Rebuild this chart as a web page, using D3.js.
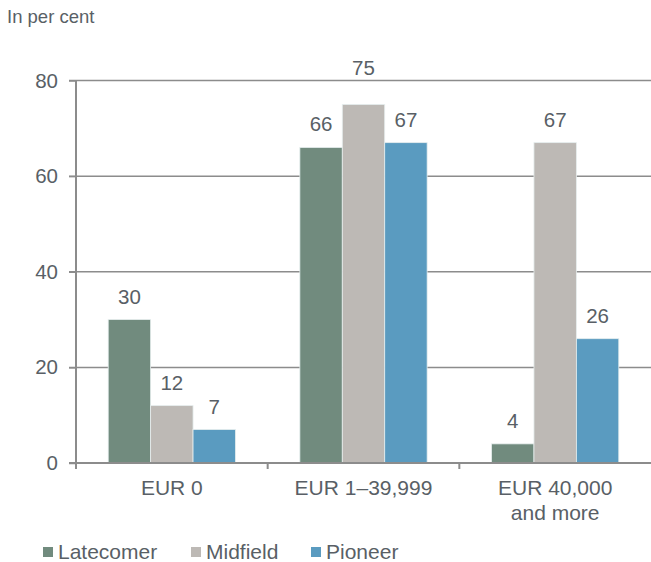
<!DOCTYPE html>
<html>
<head>
<meta charset="utf-8">
<script src="https://cdn.jsdelivr.net/npm/d3@7"></script>
<style>
  html, body { margin: 0; padding: 0; background: #fff; }
  svg { display: block; font-family: "Liberation Sans", Arial, sans-serif; }
</style>
</head>
<body>
<svg id="chart" width="651" height="562"></svg>
<script>
const categories = [["EUR 0"], ["EUR 1\u201339,999"], ["EUR 40,000", "and more"]];
const seriesNames = ["Latecomer", "Midfield", "Pioneer"];
const latecomer = [30, 66, 4];
const midfield = [12, 75, 67];
const pioneer = [7, 67, 26];
const yTicks = [0, 20, 40, 60, 80];
const unitLabel = "In per cent";

(function () {
const seriesValues = [latecomer, midfield, pioneer];
const colors = ["#718b7e", "#bdb9b5", "#5a9bc0"];
const textColor = "#595f66";
const axisColor = "#8c8c8c";

const svg = d3.select("#chart");
const pLeft = 76, pRight = 651, pTop = 80.5, pBottom = 463;

const catKeys = categories.map(c => c.join(" "));
const x0 = d3.scaleBand().domain(catKeys).range([pLeft, pRight]).padding(0);
const bw = x0.bandwidth();
const pad = bw * 0.168;
const x1 = d3.scaleBand().domain(seriesNames).range([pad, bw - pad]).padding(0);
const y = d3.scaleLinear().domain([0, 80]).range([pBottom, pTop]);

// gridlines
svg.append("g").selectAll("line").data(yTicks.filter(t => t > 0)).join("line")
  .attr("x1", pLeft - 7).attr("x2", pRight)
  .attr("y1", d => y(d)).attr("y2", d => y(d))
  .attr("stroke", axisColor).attr("stroke-width", 1.5);

// bars
const groups = svg.append("g").selectAll("g").data(catKeys).join("g")
  .attr("transform", d => `translate(${x0(d)},0)`);

const rows = (d, i) => seriesNames.map((s, j) => ({s, v: seriesValues[j][i], j}));

groups.selectAll("rect").data(rows).join("rect")
  .attr("x", d => x1(d.s))
  .attr("width", x1.bandwidth())
  .attr("y", d => y(d.v))
  .attr("height", d => pBottom - y(d.v))
  .attr("fill", d => colors[d.j])
  .attr("stroke", "#e6eeee").attr("stroke-width", 0.8);

// value labels
groups.selectAll("text").data(rows).join("text")
  .attr("x", d => x1(d.s) + x1.bandwidth() / 2)
  .attr("y", d => {
    const yy = y(d.v) - 16;
    return (yy - 15 < y(80) + 2 && yy > y(80) - 2) ? y(80) - 6 : yy;
  })
  .attr("text-anchor", "middle")
  .attr("font-size", 20.5)
  .attr("fill", textColor)
  .text(d => d.v);

// y axis
const yAxis = d3.axisLeft(y).tickValues(yTicks).tickSize(7).tickPadding(11);
const gy = svg.append("g").attr("transform", `translate(${pLeft},0)`).call(yAxis);
gy.select(".domain").attr("stroke", axisColor).attr("stroke-width", 2)
  .attr("d", `M0,${pTop}V${pBottom + 6}`);
gy.selectAll(".tick line").attr("stroke", axisColor).attr("stroke-width", 1.5);
gy.selectAll(".tick text").attr("font-size", 20.5).attr("fill", textColor)
  .attr("font-family", "Liberation Sans, Arial, sans-serif");

// x axis
const xAxis = d3.axisBottom(x0).tickSize(0).tickFormat("");
const gx = svg.append("g").attr("transform", `translate(0,${pBottom})`).call(xAxis);
gx.select(".domain").attr("stroke", axisColor).attr("stroke-width", 2)
  .attr("d", `M${pLeft - 7},0H${pRight}`);
gx.append("g").selectAll("line").data(catKeys.slice(1)).join("line")
  .attr("x1", d => x0(d)).attr("x2", d => x0(d))
  .attr("y1", 0).attr("y2", 6)
  .attr("stroke", axisColor).attr("stroke-width", 2);

// category labels
const catG = svg.append("g");
categories.forEach((lines, i) => {
  const cx = x0(catKeys[i]) + bw / 2;
  const t = catG.append("text")
    .attr("x", cx).attr("y", 495)
    .attr("text-anchor", "middle")
    .attr("font-size", 21)
    .attr("fill", textColor);
  lines.forEach((ln, k) => {
    t.append("tspan").attr("x", cx).attr("dy", k === 0 ? 0 : 25).text(ln);
  });
});

// unit label
svg.append("text").attr("x", 7).attr("y", 23)
  .attr("font-size", 18.5).attr("fill", textColor).text(unitLabel);

// legend
const legendX = [43, 191, 311];
const lg = svg.append("g").selectAll("g").data(seriesNames).join("g")
  .attr("transform", (d, i) => `translate(${legendX[i]},547)`);
lg.append("rect").attr("width", 10).attr("height", 10).attr("fill", (d, i) => colors[i]);
lg.append("text").attr("x", 15).attr("y", 11.5).attr("font-size", 21)
  .attr("fill", textColor).text(d => d);
})();
</script>
</body>
</html>
